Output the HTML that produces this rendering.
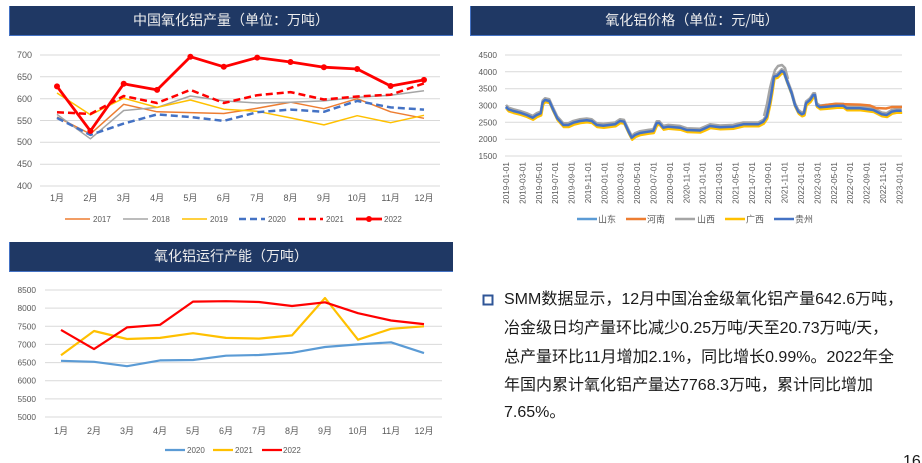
<!DOCTYPE html>
<html><head><meta charset="utf-8">
<style>
html,body{margin:0;padding:0;background:#fff;}
body{width:922px;height:463px;overflow:hidden;position:relative;font-family:"Liberation Sans","Noto Sans CJK SC",sans-serif;}
svg{position:absolute;left:0;top:0;}
.txt{position:absolute;left:504px;font-size:16px;color:#1a1a1a;white-space:nowrap;font-family:"Liberation Sans","Noto Sans CJK SC",sans-serif;line-height:20px;}
</style></head>
<body>
<svg width="922" height="463" viewBox="0 0 922 463" xmlns="http://www.w3.org/2000/svg" font-family="Liberation Sans, Noto Sans CJK SC, sans-serif">
<!-- Title bars -->
<rect x="9" y="6" width="444" height="30" fill="#1f3864"/>
<line x1="9.5" y1="6" x2="9.5" y2="36" stroke="#4472c4" stroke-width="1"/>
<line x1="9" y1="35.5" x2="453" y2="35.5" stroke="#4472c4" stroke-width="1"/>
<text x="231" y="25" font-size="14" fill="#eeeeee" text-anchor="middle" font-family="Noto Sans CJK SC, sans-serif">中国氧化铝产量（单位：万吨）</text>

<rect x="470" y="6" width="445" height="30" fill="#1f3864"/>
<line x1="470.5" y1="6" x2="470.5" y2="36" stroke="#4472c4" stroke-width="1"/>
<line x1="470" y1="35.5" x2="915" y2="35.5" stroke="#4472c4" stroke-width="1"/>
<text x="692" y="25" font-size="14" fill="#eeeeee" text-anchor="middle" font-family="Noto Sans CJK SC, sans-serif">氧化铝价格（单位：元/吨）</text>

<rect x="9" y="242" width="444" height="30" fill="#1f3864"/>
<line x1="9.5" y1="242" x2="9.5" y2="272" stroke="#4472c4" stroke-width="1"/>
<line x1="9" y1="271.5" x2="453" y2="271.5" stroke="#4472c4" stroke-width="1"/>
<text x="231" y="261" font-size="14" fill="#eeeeee" text-anchor="middle" font-family="Noto Sans CJK SC, sans-serif">氧化铝运行产能（万吨）</text>

<!-- ============ Chart 1 ============ -->
<g stroke="#d9d9d9" stroke-width="1">
<line x1="40" y1="55" x2="440" y2="55"/>
<line x1="40" y1="76.8" x2="440" y2="76.8"/>
<line x1="40" y1="98.7" x2="440" y2="98.7"/>
<line x1="40" y1="120.5" x2="440" y2="120.5"/>
<line x1="40" y1="142.3" x2="440" y2="142.3"/>
<line x1="40" y1="164.2" x2="440" y2="164.2"/>
<line x1="40" y1="186" x2="440" y2="186"/>
</g>
<g font-size="9" fill="#595959" text-anchor="end">
<text x="32" y="58">700</text>
<text x="32" y="80">650</text>
<text x="32" y="102">600</text>
<text x="32" y="124">550</text>
<text x="32" y="145">500</text>
<text x="32" y="167">450</text>
<text x="32" y="189">400</text>
</g>
<g font-size="9" fill="#595959" text-anchor="middle">
<text x="57" y="201">1月</text><text x="90.4" y="201">2月</text><text x="123.7" y="201">3月</text><text x="157.1" y="201">4月</text><text x="190.4" y="201">5月</text><text x="223.8" y="201">6月</text><text x="257.2" y="201">7月</text><text x="290.5" y="201">8月</text><text x="323.9" y="201">9月</text><text x="357.2" y="201">10月</text><text x="390.6" y="201">11月</text><text x="424" y="201">12月</text>
</g>
<g fill="none" stroke-linejoin="round">
<polyline stroke="#ed7d31" stroke-width="1.5" points="57,117 90.4,134 123.7,104.3 157.1,111.8 190.4,112.6 223.8,113.5 257.2,108.3 290.5,102.2 323.9,108.7 357.2,98.7 390.6,111.8 424,118.3"/>
<polyline stroke="#a5a5a5" stroke-width="1.5" points="57,114.4 90.4,138.8 123.7,110.5 157.1,107.4 190.4,96 223.8,100.9 257.2,103 290.5,102.2 323.9,100.9 357.2,97.4 390.6,95.2 424,90.8"/>
<polyline stroke="#ffc000" stroke-width="1.5" points="57,93 90.4,114.8 123.7,98.2 157.1,107.4 190.4,100 223.8,109.2 257.2,111.3 290.5,117.9 323.9,124.9 357.2,115.7 390.6,122.7 424,115.3"/>
<polyline stroke="#4472c4" stroke-width="2.5" stroke-dasharray="7,4" points="57,117.9 90.4,134.9 123.7,123.6 157.1,114.4 190.4,117 223.8,120.9 257.2,112.2 290.5,109.6 323.9,111.8 357.2,100.9 390.6,107.4 424,109.6"/>
<polyline stroke="#ff0000" stroke-width="2.5" stroke-dasharray="7,4" points="57,112.2 90.4,114 123.7,96 157.1,103 190.4,89.9 223.8,103 257.2,95.2 290.5,92.1 323.9,99.5 357.2,96.5 390.6,94.7 424,83.4"/>
<polyline stroke="#ff0000" stroke-width="2.8" points="57,86.4 90.4,131 123.7,83.8 157.1,89.9 190.4,56.7 223.8,66.8 257.2,57.6 290.5,62 323.9,67.2 357.2,69 390.6,86 424,79.9"/>
</g>
<g fill="#ff0000">
<circle cx="57" cy="86.4" r="3"/><circle cx="90.4" cy="131" r="3"/><circle cx="123.7" cy="83.8" r="3"/><circle cx="157.1" cy="89.9" r="3"/><circle cx="190.4" cy="56.7" r="3"/><circle cx="223.8" cy="66.8" r="3"/><circle cx="257.2" cy="57.6" r="3"/><circle cx="290.5" cy="62" r="3"/><circle cx="323.9" cy="67.2" r="3"/><circle cx="357.2" cy="69" r="3"/><circle cx="390.6" cy="86" r="3"/><circle cx="424" cy="79.9" r="3"/>
</g>
<!-- legend 1 -->
<g font-size="8" fill="#595959">
<line x1="65" y1="219" x2="90" y2="219" stroke="#ed7d31" stroke-width="1.5"/><text x="93" y="222">2017</text>
<line x1="123" y1="219" x2="148" y2="219" stroke="#a5a5a5" stroke-width="1.5"/><text x="152" y="222">2018</text>
<line x1="182" y1="219" x2="207" y2="219" stroke="#ffc000" stroke-width="1.5"/><text x="210" y="222">2019</text>
<line x1="239" y1="219" x2="265" y2="219" stroke="#4472c4" stroke-width="2.5" stroke-dasharray="7,4"/><text x="268" y="222">2020</text>
<line x1="298" y1="219" x2="323" y2="219" stroke="#ff0000" stroke-width="2.5" stroke-dasharray="7,4"/><text x="326" y="222">2021</text>
<line x1="356" y1="219" x2="382" y2="219" stroke="#ff0000" stroke-width="2.8"/><circle cx="369" cy="219" r="3" fill="#ff0000"/><text x="384" y="222">2022</text>
</g>

<!-- ============ Chart 2 ============ -->
<g stroke="#d9d9d9" stroke-width="1">
<line x1="505" y1="55" x2="902" y2="55"/>
<line x1="505" y1="71.8" x2="902" y2="71.8"/>
<line x1="505" y1="88.7" x2="902" y2="88.7"/>
<line x1="505" y1="105.5" x2="902" y2="105.5"/>
<line x1="505" y1="122.3" x2="902" y2="122.3"/>
<line x1="505" y1="139.2" x2="902" y2="139.2"/>
<line x1="505" y1="156" x2="902" y2="156"/>
</g>
<g font-size="8.3" fill="#595959" text-anchor="end">
<text x="497" y="58">4500</text>
<text x="497" y="74.8">4000</text>
<text x="497" y="91.7">3500</text>
<text x="497" y="108.5">3000</text>
<text x="497" y="125.3">2500</text>
<text x="497" y="142.2">2000</text>
<text x="497" y="159">1500</text>
</g>
<g font-size="8.2" fill="#595959" text-anchor="end">
<text transform="translate(509,162) rotate(-90)">2019-01-01</text>
<text transform="translate(525.4,162) rotate(-90)">2019-03-01</text>
<text transform="translate(541.8,162) rotate(-90)">2019-05-01</text>
<text transform="translate(558.2,162) rotate(-90)">2019-07-01</text>
<text transform="translate(574.6,162) rotate(-90)">2019-09-01</text>
<text transform="translate(591,162) rotate(-90)">2019-11-01</text>
<text transform="translate(607.3,162) rotate(-90)">2020-01-01</text>
<text transform="translate(623.7,162) rotate(-90)">2020-03-01</text>
<text transform="translate(640.1,162) rotate(-90)">2020-05-01</text>
<text transform="translate(656.5,162) rotate(-90)">2020-07-01</text>
<text transform="translate(672.9,162) rotate(-90)">2020-09-01</text>
<text transform="translate(689.3,162) rotate(-90)">2020-11-01</text>
<text transform="translate(705.7,162) rotate(-90)">2021-01-01</text>
<text transform="translate(722.1,162) rotate(-90)">2021-03-01</text>
<text transform="translate(738.5,162) rotate(-90)">2021-05-01</text>
<text transform="translate(754.9,162) rotate(-90)">2021-07-01</text>
<text transform="translate(771.2,162) rotate(-90)">2021-09-01</text>
<text transform="translate(787.6,162) rotate(-90)">2021-11-01</text>
<text transform="translate(804,162) rotate(-90)">2022-01-01</text>
<text transform="translate(820.4,162) rotate(-90)">2022-03-01</text>
<text transform="translate(836.8,162) rotate(-90)">2022-05-01</text>
<text transform="translate(853.2,162) rotate(-90)">2022-07-01</text>
<text transform="translate(869.6,162) rotate(-90)">2022-09-01</text>
<text transform="translate(886,162) rotate(-90)">2022-11-01</text>
<text transform="translate(902.3,162) rotate(-90)">2023-01-01</text>
</g>
<defs>
<polyline id="pp" fill="none" stroke-linejoin="round" points="506,106.7 508.3,109.3 513.3,111 520,112.7 526.7,115 532.7,117.7 536.7,115 540.7,113.3 542.7,102.3 545,100 549.3,101 553.3,110 557.3,118.3 563.3,125 568.3,125 573.3,122.7 580,121 586.7,120.3 591.7,121 596.7,125 603.3,125.7 615,124.3 620,121 624,121.7 628.3,131 631.7,137.7 635,135 640,133 648.3,131.7 653.3,131 656.7,123 659.3,123 663.3,127.7 668.3,126.7 680,127.7 686.7,130 700,130.5 705,128.3 710,126 720,127.3 733.3,126.7 743.3,124.3 758.3,124.3 763.3,121.7 766.7,116.7 770,101.7 771.7,91.7 774,76.7 777.3,75.7 781.7,71 784,72.3 787.3,81.7 791.7,93.3 795,105 798.3,111.7 801.7,114.3 804,113.3 806,103.3 810,100 813.3,95 815,95 816.7,105 820,107.3 826.7,106.7 836.7,105.7 843.3,105.7 846.7,108.3 860,108.3 873.3,110 881.7,114.3 886.7,115 891.7,111.7 896.7,110.7 901.7,110.7"/>
</defs>
<use href="#pp" stroke="#5b9bd5" stroke-width="2.5" transform="translate(0,1)"/>
<use href="#pp" stroke="#a5a5a5" stroke-width="2.5" transform="translate(0,-1.8)"/>
<polyline fill="none" stroke="#a5a5a5" stroke-width="2.5" stroke-linejoin="round" points="764,116 767,104 770,88 772,80 775,70 778,66 782,65 785,68 788,79"/>
<polyline fill="none" stroke="#a5a5a5" stroke-width="2.5" stroke-linejoin="round" points="840,104.5 846,107 860,108 873,109.5"/>
<use href="#pp" stroke="#ffc000" stroke-width="2.5" transform="translate(0.5,2)"/>
<polyline fill="none" stroke="#ed7d31" stroke-width="2.5" stroke-linejoin="round" points="818,106.5 826,105 836,103.8 846,104.2 860,104.6 870,105.5 876,108 886,108.5 892,107 902,107"/>
<use href="#pp" stroke="#4472c4" stroke-width="2.5"/>
<!-- legend 2 -->
<g font-size="9" fill="#595959" font-family="Noto Sans CJK SC, sans-serif">
<line x1="577" y1="219" x2="597" y2="219" stroke="#5b9bd5" stroke-width="2.5"/><text x="598" y="222.5">山东</text>
<line x1="626" y1="219" x2="646" y2="219" stroke="#ed7d31" stroke-width="2.5"/><text x="647" y="222.5">河南</text>
<line x1="675" y1="219" x2="695" y2="219" stroke="#a5a5a5" stroke-width="2.5"/><text x="697" y="222.5">山西</text>
<line x1="725" y1="219" x2="745" y2="219" stroke="#ffc000" stroke-width="2.5"/><text x="746" y="222.5">广西</text>
<line x1="774" y1="219" x2="794" y2="219" stroke="#4472c4" stroke-width="2.5"/><text x="795" y="222.5">贵州</text>
</g>

<!-- ============ Chart 3 ============ -->
<g stroke="#d9d9d9" stroke-width="1">
<line x1="45" y1="290" x2="442" y2="290"/>
<line x1="45" y1="308.1" x2="442" y2="308.1"/>
<line x1="45" y1="326.3" x2="442" y2="326.3"/>
<line x1="45" y1="344.4" x2="442" y2="344.4"/>
<line x1="45" y1="362.6" x2="442" y2="362.6"/>
<line x1="45" y1="380.7" x2="442" y2="380.7"/>
<line x1="45" y1="398.9" x2="442" y2="398.9"/>
<line x1="45" y1="417" x2="442" y2="417"/>
</g>
<g font-size="8.3" fill="#595959" text-anchor="end">
<text x="36" y="293">8500</text>
<text x="36" y="311.1">8000</text>
<text x="36" y="329.3">7500</text>
<text x="36" y="347.4">7000</text>
<text x="36" y="365.6">6500</text>
<text x="36" y="383.7">6000</text>
<text x="36" y="401.9">5500</text>
<text x="36" y="420">5000</text>
</g>
<g font-size="9" fill="#595959" text-anchor="middle">
<text x="61" y="434">1月</text><text x="94" y="434">2月</text><text x="127" y="434">3月</text><text x="160" y="434">4月</text><text x="193" y="434">5月</text><text x="226" y="434">6月</text><text x="259" y="434">7月</text><text x="292" y="434">8月</text><text x="325" y="434">9月</text><text x="358" y="434">10月</text><text x="391" y="434">11月</text><text x="424" y="434">12月</text>
</g>
<g fill="none" stroke-width="2.2" stroke-linejoin="round">
<polyline stroke="#5b9bd5" points="61,360.8 94,361.8 127,366.2 160,360.4 193,360 226,355.7 259,355 292,352.8 325,347 358,344.4 391,342.3 424,353.1"/>
<polyline stroke="#ffc000" points="61,355.3 94,331 127,339 160,337.9 193,333.2 226,337.9 259,338.6 292,335.4 325,298 358,339.7 391,328.8 424,326.3"/>
<polyline stroke="#ff0000" points="61,329.9 94,349.1 127,327.4 160,324.8 193,301.6 226,301.2 259,302 292,306 325,302.3 358,313.2 391,320.5 424,324.1"/>
</g>
<g font-size="8" fill="#595959">
<line x1="165" y1="450" x2="185" y2="450" stroke="#5b9bd5" stroke-width="2.2"/><text x="187" y="453">2020</text>
<line x1="213" y1="450" x2="233" y2="450" stroke="#ffc000" stroke-width="2.2"/><text x="235" y="453">2021</text>
<line x1="262" y1="450" x2="282" y2="450" stroke="#ff0000" stroke-width="2.2"/><text x="283" y="453">2022</text>
</g>

<!-- bullet -->
<rect x="483.5" y="295.5" width="9" height="9" fill="#fff" stroke="#2f5597" stroke-width="2"/>
<!-- page number -->
<text x="903" y="466" font-size="16" fill="#1a1a1a">16</text>
</svg>

<div class="txt" style="top:290px;">SMM数据显示，12月中国冶金级氧化铝产量642.6万吨，</div>
<div class="txt" style="top:319px;">冶金级日均产量环比减少0.25万吨/天至20.73万吨/天，</div>
<div class="txt" style="top:347.5px;">总产量环比11月增加2.1%，同比增长0.99%。2022年全</div>
<div class="txt" style="top:376px;">年国内累计氧化铝产量达7768.3万吨，累计同比增加</div>
<div class="txt" style="top:403px;">7.65%。</div>
</body></html>
